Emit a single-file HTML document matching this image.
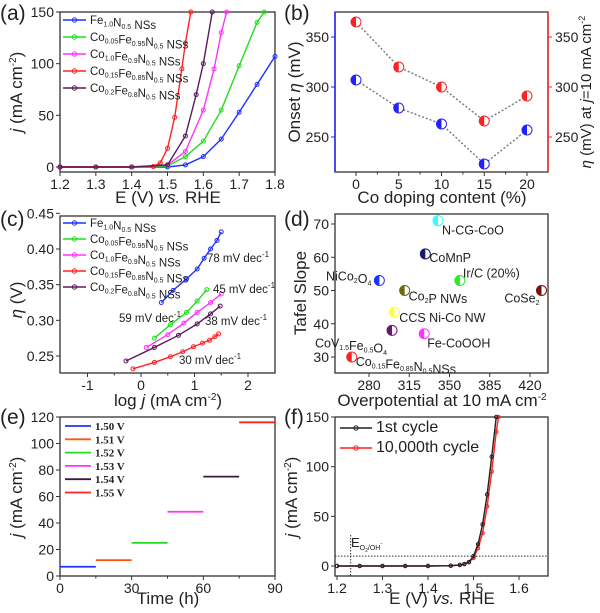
<!DOCTYPE html>
<html><head><meta charset="utf-8"><style>
html,body{margin:0;padding:0;background:#fff}
svg{display:block;font-family:"Liberation Sans",sans-serif}
</style></head><body>
<svg id="fig" width="600" height="613" viewBox="0 0 600 613" xmlns="http://www.w3.org/2000/svg"></svg>
<script>
// ---- Panel (a) data ----
const aE_fe=[1.2,1.3,1.4,1.5,1.55,1.6,1.65,1.7,1.75,1.8];
const aJ_fe=[0,0,0,0,2,10,27,53,80,107];
const aE_c05=[1.2,1.3,1.4,1.5,1.55,1.6,1.65,1.7,1.75,1.77];
const aJ_c05=[0,0,0,1,10,25,55,98,140,150];
const aE_c10=[1.2,1.3,1.4,1.5,1.55,1.6,1.63,1.65,1.665];
const aJ_c10=[0,0,0,2,15,55,95,130,150];
const aE_c15=[1.2,1.3,1.4,1.46,1.48,1.5,1.52,1.54,1.55,1.565];
const aJ_c15=[0,0,0,0.5,4,18,48,95,120,150];
const aE_c20=[1.2,1.3,1.4,1.5,1.55,1.58,1.6,1.625];
const aJ_c20=[0,0,0,2,30,70,100,150];
const aNames=["Fe1.0N0.5","Co0.05Fe0.95N0.5","Co1.0Fe0.9N0.5","Co0.15Fe0.85N0.5","Co0.2Fe0.8N0.5"];
// ---- Panel (b) data ----
const bDoping=[0,5,10,15,20];
const bOnset=[307,279,263,223,257];
const bEta10=[365,320,300,266,291];
// ---- Panel (c) data ----
const cX_fe=[0.38,0.6,0.85,1.05,1.18,1.3,1.42,1.5];
const cY_fe=[0.325,0.342,0.358,0.372,0.387,0.400,0.412,0.424];
const cX_c05=[0.25,0.55,0.85,1.05,1.23];
const cY_c05=[0.275,0.294,0.311,0.327,0.343];
const cX_c10=[0.1,0.5,0.8,1.05,1.3,1.5];
const cY_c10=[0.262,0.28,0.296,0.311,0.325,0.337];
const cX_c15=[-0.15,0.25,0.55,0.78,0.98,1.15,1.28,1.38,1.45];
const cY_c15=[0.232,0.241,0.249,0.256,0.263,0.268,0.272,0.277,0.281];
const cX_c20=[-0.28,0.25,0.7,1.05,1.3,1.48];
const cY_c20=[0.243,0.262,0.279,0.295,0.309,0.320];
// ---- Panel (d) data ----
const dLabels=["N-CG-CoO","CoMnP","NiCo2O4","Ir/C (20%)","CoSe2","Co2P NWs","CCS Ni-Co NW","CoV1.5Fe0.5O4","Fe-CoOOH","Co0.15Fe0.85N0.5NSs"];
const dOver=[340,329,289,359,430,311,302,300,328,265];
const dTafel=[71,61,53,53,50,50,43.5,38,37,30];
// ---- Panel (e) data ----
const eStart=[0,15,30,45,60,75];
const eEnd=[15,30,45,60,75,90];
const eJ=[7,12,25,48.5,75,116];
const eLabels=["1.50 V","1.51 V","1.52 V","1.53 V","1.54 V","1.55 V"];
// ---- Panel (f) data ----
const fE1=[1.2,1.25,1.3,1.35,1.4,1.45,1.47,1.48,1.49,1.5,1.51,1.52,1.53,1.54,1.55];
const fJ1=[0,0,0,0,0,0.3,1,2,4,10,22,42,72,110,150];
const fE2=[1.2,1.25,1.3,1.35,1.4,1.45,1.47,1.48,1.49,1.5,1.51,1.52,1.53,1.54,1.55,1.555];
const fJ2=[0,0,0,0,0,0.3,1,2,4,8,18,33,60,95,135,150];

const NS="http://www.w3.org/2000/svg";
const svg=document.getElementById('fig');
function mk(tag,at,parent){const e=document.createElementNS(NS,tag);for(const k in at)e.setAttribute(k,at[k]);(parent||svg).appendChild(e);return e;}
function lin(d0,d1,p0,p1){return v=>p0+(v-d0)*(p1-p0)/(d1-d0);}
function txt(x,y,s,size,anchor,name,extra){const t=mk('text',Object.assign({x:x,y:y,'font-size':size,'text-anchor':anchor||'middle',fill:'#222'},extra||{}));t.innerHTML=s;


return t;}
function box(x0,y0,x1,y1,name){const r=mk('rect',{x:x0,y:y0,width:x1-x0,height:y1-y0,fill:'none',stroke:'#333','stroke-width':1.3});

}
function xticks(vals,sx,yb,fmt,name,minor){vals.forEach(v=>{const l=mk('line',{x1:sx(v),x2:sx(v),y1:yb,y2:yb+4,stroke:'#333'});


txt(sx(v),yb+17,fmt(v),14,'middle',name+'-label');});
(minor||[]).forEach(v=>{const l=mk('line',{x1:sx(v),x2:sx(v),y1:yb,y2:yb+2.5,stroke:'#333'});

});}
function yticks(vals,sy,xl,fmt,name,right,color){vals.forEach(v=>{const l=mk('line',{x1:xl,x2:right?xl+4:xl-4,y1:sy(v),y2:sy(v),stroke:color||'#333'});


txt(right?xl+7:xl-6,sy(v)+5,fmt(v),14,right?'start':'end',name+'-label');});}
function poly(xs,ys,sx,sy,color,name,r,dash){const pts=xs.map((x,i)=>sx(x)+','+sy(ys[i])).join(' ');
const p=mk('polyline',{points:pts,fill:'none',stroke:color,'stroke-width':1.4,'stroke-dasharray':dash||''});


if(r){xs.forEach((x,i)=>{const c=mk('circle',{cx:sx(x),cy:sy(ys[i]),r:r,fill:'none',stroke:color,'stroke-width':1});

});}}
function halfDot(cx,cy,color,name){const g=mk('g',{});


mk('circle',{cx:cx,cy:cy,r:5,fill:'#fff',stroke:color,'stroke-width':1},g);
mk('path',{d:`M${cx},${cy-5} A5,5 0 0 0 ${cx},${cy+5} Z`,fill:color},g);}
function sub(s,fs){return s.replace(/([A-Za-z])(\d+(\.\d+)?)/g,(m,a,b)=>a+'<tspan dy="2.5" font-size="'+(fs||8)+'">'+b+'</tspan><tspan dy="-2.5"></tspan>');}
function legend(x,y,color,label,name,marker,fs,lineLen){const l=mk('line',{x1:x,x2:x+(lineLen||24),y1:y,y2:y,stroke:color,'stroke-width':1.6});


if(marker){const c=mk('circle',{cx:x+(lineLen||24)/2,cy:y,r:2.2,fill:'none',stroke:color});

}
txt(x+(lineLen||24)+4,y+4,label,fs||13,'start',name+'-label');}
const colors=["#1f2fff","#22dd22","#ff33ff","#ff2222","#5a1a5a"];
const panelLbls=[["(a)",0,20],["(b)",284,20],["(c)",0,226],["(d)",284,226],["(e)",0,424],["(f)",284,424]];
panelLbls.forEach(p=>txt(p[1],p[2],p[0],21,'start','panel-label-'+p[0][1]));

// ===== (a) =====
{const sx=lin(1.2,1.8,60,275), sy=lin(0,150,167,12);
box(60,12,275,172,'panel-a-plot-area');
xticks([1.2,1.3,1.4,1.5,1.6,1.7,1.8],sx,172,v=>v.toFixed(1),'a-x-tick');
yticks([0,50,100,150],sy,60,v=>v,'a-y-tick');
txt(168,203,'E (V) <tspan font-style="italic">vs.</tspan> RHE',17,'middle','a-x-axis-title');
txt(0,0,'<tspan font-style="italic">j</tspan> (mA cm<tspan dy="-6" font-size="10">-2</tspan><tspan dy="6">)</tspan>',17,'middle','a-y-axis-title',{transform:'translate(22,92) rotate(-90)'});
const E=[aE_fe,aE_c05,aE_c10,aE_c15,aE_c20],J=[aJ_fe,aJ_c05,aJ_c10,aJ_c15,aJ_c20];
E.forEach((xs,i)=>poly(xs,J[i],sx,sy,colors[i],'a-series-'+i,2));
aNames.forEach((n,i)=>legend(63,20+i*17,colors[i],sub(n,7)+' NSs','a-legend-entry-'+i,true,11.5,23));}

// ===== (b) =====
{const sx=lin(0,20,356,527), sy=lin(250,350,137,37);
box(335,12,548,172,'panel-b-plot-area');
const la=mk('line',{x1:335,x2:335,y1:12,y2:172,stroke:'#2222ff','stroke-width':1.5});


const ra=mk('line',{x1:548,x2:548,y1:12,y2:172,stroke:'#ff2222','stroke-width':1.5});


xticks(bDoping,sx,172,v=>v,'b-x-tick',[2.5,7.5,12.5,17.5]);
yticks([250,300,350],sy,335,v=>v,'b-left-y-tick',false,'#2222ff');
yticks([250,300,350],sy,548,v=>v,'b-right-y-tick',true,'#ff2222');
txt(442,203,'Co doping content (%)',17,'middle','b-x-axis-title');
txt(0,0,'Onset <tspan font-style="italic">η</tspan> (mV)',17,'middle','b-left-axis-title',{transform:'translate(300,92) rotate(-90)'});
txt(0,0,'<tspan font-style="italic">η</tspan> (mV) at <tspan font-style="italic">j</tspan>=10 mA cm<tspan dy="-6" font-size="9">-2</tspan>',15,'middle','b-right-axis-title',{transform:'translate(591,92) rotate(-90)'});
poly(bDoping,bOnset,sx,sy,'#777','b-onset',0,'2,2');
poly(bDoping,bEta10,sx,sy,'#777','b-eta10',0,'2,2');
bDoping.forEach((d,i)=>{halfDot(sx(d),sy(bOnset[i]),'#2222ff','b-onset-point');halfDot(sx(d),sy(bEta10[i]),'#ff2222','b-eta10-point');});}

// ===== (c) =====
{const sx=lin(0,2,141,248), sy=lin(0.25,0.40,356,249);
box(60,216,275,373,'panel-c-plot-area');
xticks([-1,0,1,2],sx,373,v=>v,'c-x-tick',[-0.5,0.5,1.5]);
yticks([0.25,0.30,0.35,0.40,0.45],sy,60,v=>v.toFixed(2),'c-y-tick');
txt(168,406,'log <tspan font-style="italic">j</tspan> (mA  cm<tspan dy="-6" font-size="10">-2</tspan><tspan dy="6">)</tspan>',17,'middle','c-x-axis-title');
txt(0,0,'<tspan font-style="italic">η</tspan> (V)',17,'middle','c-y-axis-title',{transform:'translate(22,300) rotate(-90)'});
const X=[cX_fe,cX_c05,cX_c10,cX_c15,cX_c20],Y=[cY_fe,cY_c05,cY_c10,cY_c15,cY_c20];
X.forEach((xs,i)=>poly(xs,Y[i],sx,sy,colors[i],'c-series-'+i,2));
aNames.forEach((n,i)=>legend(63,223+i*16,colors[i],sub(n,7)+' NSs','c-legend-entry-'+i,true,11.5,23));
txt(238,262,'78 mV dec<tspan dy="-5" font-size="8">-1</tspan>',11.5,'middle','c-slope-fe');
txt(244,293,'45 mV dec<tspan dy="-5" font-size="8">-1</tspan>',11.5,'middle','c-slope-c05');
txt(150,322,'59 mV dec<tspan dy="-5" font-size="8">-1</tspan>',11.5,'middle','c-slope-c10');
txt(236,325,'38 mV dec<tspan dy="-5" font-size="8">-1</tspan>',11.5,'middle','c-slope-c20');
txt(210,364,'30 mV dec<tspan dy="-5" font-size="8">-1</tspan>',11.5,'middle','c-slope-c15');}

// ===== (d) =====
{const sx=lin(280,420,369,530), sy=lin(30,70,357,224);
box(335,214,548,373,'panel-d-plot-area');
xticks([280,315,350,385,420],sx,373,v=>v,'d-x-tick');
yticks([30,40,50,60,70],sy,335,v=>v,'d-y-tick');
txt(442,406,'Overpotential at 10 mA cm<tspan dy="-6" font-size="10">-2</tspan>',17,'middle','d-x-axis-title');
txt(0,0,'Tafel Slope',17,'middle','d-y-axis-title',{transform:'translate(306,293) rotate(-90)'});
const dc=["#33ffff","#1a1a6a","#2233ff","#22ee22","#7a1010","#6a6a10","#ffff33","#6a1a6a","#ff33ff","#ff2222"];
const lab=[[4,14,'start'],[4,8,'start'],[-8,0,'end'],[3,-3,'start'],[-2,12,'end'],[4,10,'start'],[5,10,'start'],[-5,17,'end'],[3,14,'start'],[4,9,'start']];
dLabels.forEach((n,i)=>{const cx=sx(dOver[i]),cy=sy(dTafel[i]);halfDot(cx,cy,dc[i],'d-point-'+i);
txt(cx+lab[i][0],cy+lab[i][1],sub(n,7),12.5,lab[i][2],'d-label-'+i);});}

// ===== (e) =====
{const sx=lin(0,90,60,275), sy=lin(0,120,576,417);
box(60,417,275,576,'panel-e-plot-area');
xticks([0,30,60,90],sx,576,v=>v,'e-x-tick',[15,45,75]);
yticks([0,20,40,60,80,100,120],sy,60,v=>v,'e-y-tick');
txt(168,604,'Time (h)',17,'middle','e-x-axis-title');
txt(0,0,'<tspan font-style="italic">j</tspan> (mA cm<tspan dy="-6" font-size="10">-2</tspan><tspan dy="6">)</tspan>',17,'middle','e-y-axis-title',{transform:'translate(22,497) rotate(-90)'});
const ec=["#2233ff","#ff5511","#22dd22","#ff33ff","#3a1a3a","#ff2222"];
eJ.forEach((j,i)=>{const l=mk('line',{x1:sx(eStart[i]),x2:sx(eEnd[i]),y1:sy(j),y2:sy(j),stroke:ec[i],'stroke-width':1.8});


const lg=mk('line',{x1:65,x2:91,y1:426+i*13.3,y2:426+i*13.3,stroke:ec[i],'stroke-width':1.8});


txt(95,430+i*13.3,eLabels[i],11,'start','e-legend-label-'+i,{'font-family':'Liberation Serif','font-weight':'bold'});});}

// ===== (f) =====
{const sx=lin(1.2,1.6,337,519), sy=lin(0,150,566,417);
box(335,417,548,576,'panel-f-plot-area');
xticks([1.2,1.3,1.4,1.5,1.6],sx,576,v=>v.toFixed(1),'f-x-tick');
yticks([0,50,100,150],sy,335,v=>v,'f-y-tick');
txt(442,604,'E (V) <tspan font-style="italic">vs.</tspan> RHE',17,'middle','f-x-axis-title');
txt(0,0,'<tspan font-style="italic">j</tspan> (mA cm<tspan dy="-6" font-size="10">-2</tspan><tspan dy="6">)</tspan>',17,'middle','f-y-axis-title',{transform:'translate(297,497) rotate(-90)'});
const h=mk('line',{x1:335,x2:548,y1:sy(10),y2:sy(10),stroke:'#333','stroke-dasharray':'1.5,1.5'});


const v=mk('line',{x1:sx(1.23),x2:sx(1.23),y1:535,y2:576,stroke:'#333','stroke-dasharray':'1.5,1.5'});


txt(351,547,'E<tspan dy="3" font-size="7">O</tspan><tspan dy="2" font-size="5">2</tspan><tspan dy="-2" font-size="7">/OH</tspan><tspan dy="-5" font-size="6">-</tspan>',13,'start','f-equilibrium-label');
poly(fE2,fJ2,sx,sy,'#ff2222','f-cycle-10000',1.7);
poly(fE1,fJ1,sx,sy,'#222','f-cycle-1',1.7);
legend(340,428,'#222','1st cycle','f-legend-entry-0',true,16,32);
legend(340,448,'#ff2222','10,000th cycle','f-legend-entry-1',true,16,32);}
</script>
</body></html>
